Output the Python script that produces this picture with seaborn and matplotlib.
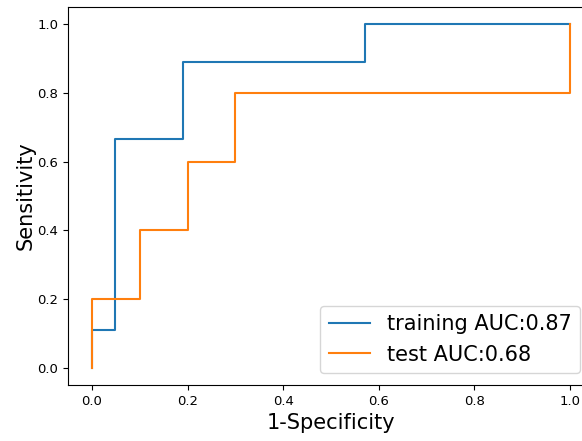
import matplotlib
matplotlib.use("Agg")
import matplotlib.pyplot as plt
import seaborn as sns
import pandas as pd

train_fpr = [0.0, 0.0, 0.048, 0.048, 0.19, 0.19, 0.571, 0.571, 1.0]
train_tpr = [0.0, 0.111, 0.111, 0.667, 0.667, 0.889, 0.889, 1.0, 1.0]
test_fpr = [0.0, 0.0, 0.1, 0.1, 0.2, 0.2, 0.3, 0.3, 1.0, 1.0]
test_tpr = [0.0, 0.2, 0.2, 0.4, 0.4, 0.6, 0.6, 0.8, 0.8, 1.0]
labels = ["training AUC:0.87", "test AUC:0.68"]

df = pd.concat([
    pd.DataFrame({"fpr": train_fpr, "tpr": train_tpr, "set": labels[0]}),
    pd.DataFrame({"fpr": test_fpr, "tpr": test_tpr, "set": labels[1]}),
])

plt.rcParams['font.family'] = ['DejaVu Sans']
fig = plt.figure(figsize=(5.82, 4.41), dpi=100)
ax = fig.add_axes([68 / 582, 56 / 441, 526 / 582, 378 / 441])
sns.lineplot(data=df, x="fpr", y="tpr", hue="set", sort=False, estimator=None,
             palette=["#1f77b4", "#ff7f0e"], linewidth=1.5, ax=ax)
ax.set_xlabel("1-Specificity", fontsize=15)
ax.set_ylabel("Sensitivity", fontsize=15, labelpad=1)
ax.tick_params(labelsize=9.5)
ax.set_xticks([0.0, 0.2, 0.4, 0.6, 0.8, 1.0])
ax.set_yticks([0.0, 0.2, 0.4, 0.6, 0.8, 1.0])
ax.legend(title=None, loc="lower right", fontsize=15,
          bbox_to_anchor=(580 / 582, 68 / 441), bbox_transform=fig.transFigure,
          borderaxespad=0)
fig.savefig("out.png", dpi=100)
